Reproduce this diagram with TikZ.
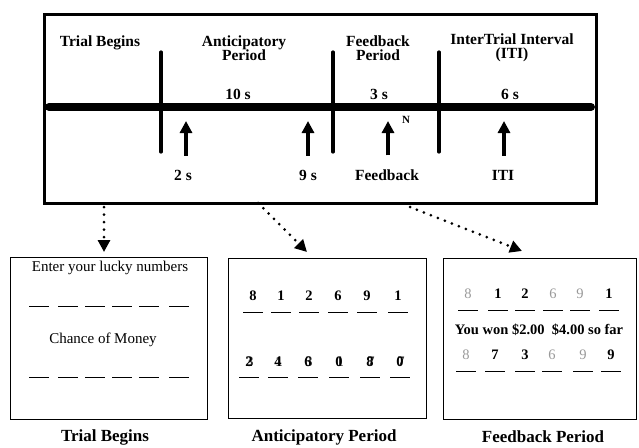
\documentclass[tikz,border=0pt]{standalone}
\usepackage{fontspec}
\setmainfont{Liberation Serif}
\usetikzlibrary{arrows.meta}

\tikzset{
  lbl/.style={font=\bfseries\fontsize{15.5}{14.5}\selectfont, align=center, inner sep=1pt},
  txt/.style={font=\fontsize{15}{16}\selectfont, inner sep=1pt},
  btxt/.style={font=\bfseries\fontsize{14.5}{15}\selectfont, inner sep=1pt},
  gtxt/.style={font=\fontsize{14.5}{15}\selectfont, text=black!40, inner sep=1pt},
  captxt/.style={font=\bfseries\fontsize{17}{18}\selectfont, inner sep=1pt},
  screen/.style={draw, line width=1.3pt, anchor=north west, inner sep=0pt},
  tick/.style={line width=3.2pt, -{Triangle[length=12pt,width=12pt]}, shorten <=13pt},
  dots/.style={line width=3pt, line cap=round, dash pattern=on 0pt off 7.5pt,
    -{Triangle[length=12pt,width=12pt]}},
  blank/.style={line width=0.9pt}
}

\begin{document}
\begin{tikzpicture}[x=1pt,y=-1pt]
        \useasboundingbox (0,0) rectangle (639,447);

        % timeline box
        \node[draw, line width=2.6pt, minimum width=552pt, minimum height=189pt, anchor=north west] at (43,13) (main) {};
        \node[lbl] at (100,43) (begin) {Trial Begins};
        \node[lbl] at (244,48) (antic) {Anticipatory\\Period};
        \node[lbl] at (378,48) (feed) {Feedback\\Period};
        \node[lbl] at (512,48) (iti) {InterTrial Interval\\(ITI)};
        \node[lbl] at (238,94) (d10) {10 s};
        \node[lbl] at (379,94) (d3) {3 s};
        \node[lbl] at (510,94) (d6) {6 s};

        \coordinate (tl) at (49,107);
        \coordinate (tr) at (591,107);
        \draw[line width=8pt, line cap=round] (tl) -- (tr);
        \foreach \x in {161,333,439}
            \draw[line width=3.2pt, line cap=round] (\x,52) -- (\x,152);

        \node[lbl] at (183,175) (t2) {2 s};
        \node[lbl] at (308,175) (t9) {9 s};
        \node[lbl] at (387,175) (tfb) {Feedback};
        \node[lbl] at (503,175) (titi) {ITI};
        \node[lbl, font=\bfseries\fontsize{11}{12}\selectfont] at (406,120) (n) {N};
        \coordinate (a2) at (186,121);
        \coordinate (a9) at (308,121);
        \coordinate (afb) at (388,121);
        \coordinate (aiti) at (504,121);
        \draw[tick] (t2.north -| a2) -- (a2);
        \draw[tick] (t9.north -| a9) -- (a9);
        \draw[tick] (tfb.north -| afb) -- (afb);
        \draw[tick] (titi.north -| aiti) -- (aiti);

        % screens
        \node[screen, minimum width=197pt, minimum height=162pt] at (10,257) (s1) {};
        \node[screen, minimum width=198pt, minimum height=160pt] at (228,258) (s2) {};
        \node[screen, minimum width=193pt, minimum height=161pt, line width=1pt] at (443,258) (s3) {};

        \coordinate (p1) at (104,207);
        \coordinate (p2) at (258,203);
        \coordinate (p3) at (410,207);
        \coordinate (e1) at (104,252);
        \coordinate (e2) at (307,252);
        \coordinate (e3) at (522,251);
        \draw[dots] (p1) -- (e1);
        \draw[dots] (p2) -- (e2);
        \draw[dots] (p3) -- (e3);

        % screen 1
        \node[txt] at (110,268) (lucky) {Enter your lucky numbers};
        \node[txt] at (103,340) (chance) {Chance of Money};
        \foreach \x in {39,68,95,122,149,179} {
            \draw[blank] (\x-10,306) -- (\x+10,306);
            \draw[blank] (\x-10,377) -- (\x+10,377);
        }

        % screen 2
        \foreach \x/\d in {253/8,281/1,309/2,338/6,367/9,398/1} {
            \node[btxt] at (\x,296) {\d};
            \draw[blank] (\x-10,312) -- (\x+10,312);
        }
        \foreach \x/\d/\e in {249/2/3,278/4/1,308/6/3,339/0/1,370/8/7,400/0/7} {
            \node[btxt] at (\x,362) {\d};
            \node[btxt, opacity=0.8] at (\x+1,362) {\e};
            \draw[blank] (\x-10,377) -- (\x+10,377);
        }

        % screen 3
        \foreach \x/\d/\s in {468/8/gtxt,498/1/btxt,525/2/btxt,553/6/gtxt,580/9/gtxt,609/1/btxt} {
            \node[\s] at (\x,294) {\d};
            \draw[blank] (\x-10,310) -- (\x+10,310);
        }
        \node[btxt] at (539,330) (won) {You won \$2.00\enspace \$4.00 so far};
        \foreach \x/\d/\s in {466/8/gtxt,495/7/btxt,525/3/btxt,552/6/gtxt,583/9/gtxt,611/9/btxt} {
            \node[\s] at (\x,355) {\d};
            \draw[blank] (\x-10,371) -- (\x+10,371);
        }

        % captions
        \node[captxt] at (105,437) (c1) {Trial Begins};
        \node[captxt] at (324,437) (c2) {Anticipatory Period};
        \node[captxt] at (543,437) (c3) {Feedback Period};
\end{tikzpicture}
\end{document}
